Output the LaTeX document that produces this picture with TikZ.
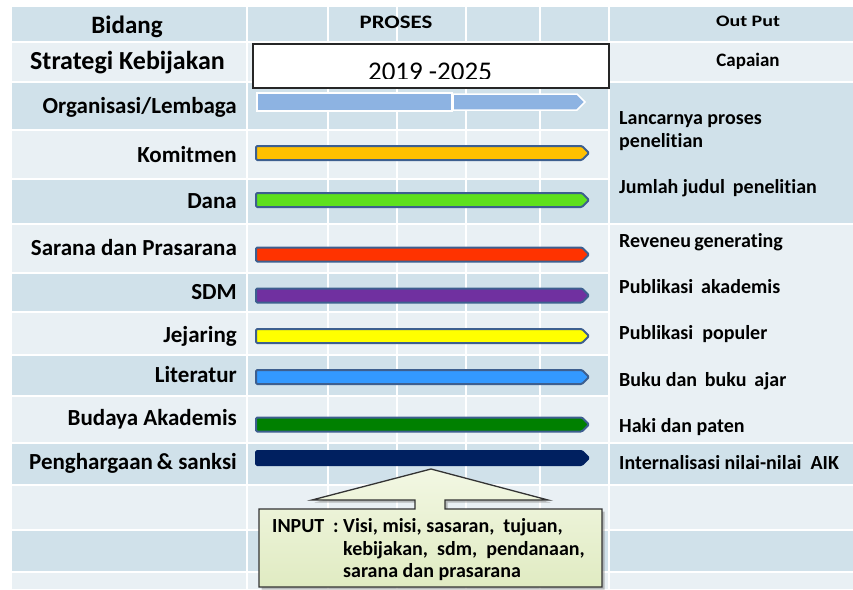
\documentclass[tikz,border=0pt]{standalone}
\usepackage{fontspec}
\setmainfont{Carlito}[RawFeature={-liga;-clig;-dlig;-calt}]
\definecolor{rowdark}{HTML}{D0E1EA}
\definecolor{rowlight}{HTML}{E9F0F4}
\definecolor{barborder}{HTML}{3D5F8F}
\definecolor{orgblue}{HTML}{8DB3E2}
\definecolor{komit}{HTML}{FFC000}
\definecolor{danagreen}{HTML}{5EE01E}
\definecolor{sarred}{HTML}{FF3300}
\definecolor{sdmpurple}{HTML}{7030A0}
\definecolor{jejyellow}{HTML}{FFFF00}
\definecolor{litblue}{HTML}{3399FF}
\definecolor{budgreen}{HTML}{008000}
\definecolor{pengnavy}{HTML}{002060}
\definecolor{calltop}{HTML}{F2F7E3}
\definecolor{callbot}{HTML}{E0EBC2}
\newcommand\probar[3]{\draw[barstyle, fill=#1, draw=#3] (256,#2-7) -- (582,#2-7) -- (589,#2) -- (582,#2+7) -- (256,#2+7) -- cycle;}
\begin{document}
\begin{tikzpicture}[x=1pt,y=-1pt,
  gridline/.style={white, line width=2pt},
  lab/.style={font=\bfseries\fontsize{23}{26}\selectfont, inner sep=0, anchor=base east},
  outtxt/.style={font=\bfseries\fontsize{20}{24}\selectfont, inner sep=0, anchor=base west},
  ctext/.style={font=\bfseries\fontsize{20}{24}\selectfont, inner sep=0, anchor=base west},
  barstyle/.style={line width=2pt, rounded corners=1.2pt, line join=round},
  orgbar/.style={fill=orgblue, draw=white, line width=1.5pt, line join=miter}]
\useasboundingbox (0,0) rectangle (853,589);
\fill[white] (0,0) rectangle (853,589);
% rows
\foreach \a/\b/\c in {7/42/rowdark, 42/82/rowlight, 82/130/rowdark, 130/179/rowlight,
  179/224/rowdark, 224/273/rowlight, 273/312/rowdark, 312/355/rowlight, 355/396/rowdark,
  396/443/rowlight, 443/485/rowdark, 485/530/rowlight, 530/572/rowdark, 572/589/rowlight}
  \fill[\c] (12,\a) rectangle (853,\b);
\fill[rowdark] (609,82) rectangle (853,224);
\fill[rowlight] (609,224) rectangle (853,443);
% grid
\foreach \y in {42,82,130,179,224,273,312,355,396,443,485,530,572}
  \draw[gridline] (12,\y) -- (609,\y);
\foreach \y in {42,82,224,443,485,530,572}
  \draw[gridline] (609,\y) -- (853,\y);
\foreach \x in {247,328,397,466,540,609}
  \draw[gridline] (\x,7) -- (\x,589);
% headers
\node[font=\bfseries\fontsize{25}{28}\selectfont, inner sep=0, anchor=base] (bidang) at (127,33) {Bidang};
\node[font=\bfseries\fontsize{19}{22}\selectfont\addfontfeature{FakeStretch=1.2}, inner sep=0, anchor=base] (proses) at (396,28) {PROSES};
\node[font=\bfseries\fontsize{16}{20}\selectfont\addfontfeature{FakeStretch=1.25}, inner sep=0, anchor=base] (output) at (748,27) {Out Put};
\node[font=\bfseries\fontsize{19}{22}\selectfont, inner sep=0, anchor=base] (capaian) at (748,66) {Capaian};
\node[font=\bfseries\fontsize{26}{29}\selectfont, inner sep=0, anchor=base west] (strategi) at (30,69) {Strategi Kebijakan};
% period box
\node[draw=black!85, fill=white, line width=1.2pt, inner sep=0, minimum width=356pt, minimum height=44pt] (period) at (431,66) {};
\begin{scope}
\clip (254,45) rectangle (608,78.5);
\node[font=\fontsize{27}{30}\selectfont, inner sep=0, anchor=base] (years) at (430,80) {2019 -2025};
\end{scope}
% left labels
\node[lab] (org) at (237,113) {Organisasi/Lembaga};
\node[lab] (kom) at (237,162) {Komitmen};
\node[lab] (dana) at (237,208) {Dana};
\node[lab] (sarana) at (237,255) {Sarana dan Prasarana};
\node[lab] (sdm) at (237,299) {SDM};
\node[lab] (jej) at (237,342) {Jejaring};
\node[lab] (lit) at (237,382) {Literatur};
\node[lab] (bud) at (237,425) {Budaya Akademis};
\node[lab] (peng) at (237,469) {Penghargaan\,\& sanksi};
% bars
\draw[orgbar] (453,94) -- (577,94) -- (585,102) -- (577,110) -- (453,110) -- cycle;
\draw[orgbar] (257,93) rectangle (452,111);
\probar{komit}{153}{barborder}
\probar{danagreen}{200}{barborder}
\probar{sarred}{254.5}{barborder}
\probar{sdmpurple}{295.5}{barborder}
\probar{jejyellow}{336}{barborder}
\probar{litblue}{377}{barborder}
\probar{budgreen}{424.5}{barborder}
\probar{pengnavy}{458}{pengnavy}
% outputs
\node[outtxt] (o1a) at (619,124) {Lancarnya proses};
\node[outtxt] (o1b) at (619,147) {penelitian};
\node[outtxt] (o2) at (619,193) {Jumlah judul\ \,penelitian};
\node[outtxt] (o3) at (619,247) {Reveneu\,generating};
\node[outtxt] (o4) at (619,293) {Publikasi\ \,akademis};
\node[outtxt] (o5) at (619,339) {Publikasi\ \ populer};
\node[outtxt] (o6) at (619,386) {Buku dan\ \,buku\ \,ajar};
\node[outtxt] (o7) at (619,432) {Haki dan paten};
\node[outtxt] (o8) at (619,469) {Internalisasi nilai-nilai\ \ AIK};
% callout
\fill[black!45, opacity=.55] ([shift={(2.5,2.5)}]259,509) -- ++(156,0) -- ++(0,-9) -- ++(-103,0) -- ++(119,-31) -- ++(117,31) -- ++(-103,0) -- ++(0,9) -- ++(157,0) -- ++(0,78) -- ++(-343,0) -- cycle;
\draw[draw=black!80, line width=1.3pt, top color=calltop, bottom color=callbot, line join=miter]
  (259,509) -- (415,509) -- (415,500) -- (312,500) -- (431,469) -- (548,500) -- (445,500) -- (445,509) -- (602,509) -- (602,587) -- (259,587) -- cycle;
\node[ctext] (inlbl) at (272,532) {INPUT};
\node[ctext] (incolon) at (333,532) {:};
\node[ctext] (in1) at (343,532) {Visi,\ misi,\ sasaran,\ \ tujuan,};
\node[ctext] (in2) at (343,555) {kebijakan,\ \ sdm,\ \ pendanaan,};
\node[ctext] (in3) at (343,577) {sarana dan prasarana};
\end{tikzpicture}
\end{document}
